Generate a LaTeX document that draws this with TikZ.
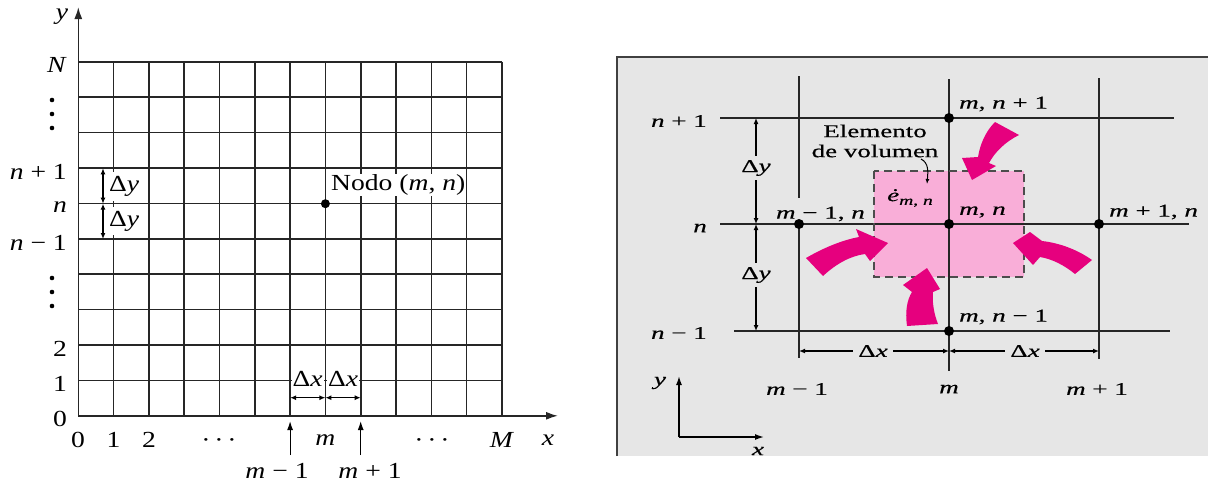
\documentclass[tikz,border=0pt]{standalone}
\usepackage{fontspec}
\setmainfont{Liberation Serif}
\newfontfamily\lfont[FakeStretch=1.2]{Liberation Serif}
\newfontfamily\rfont[FakeStretch=1.5,FakeBold=0.5]{Liberation Serif}
\usetikzlibrary{arrows.meta}
\definecolor{panelgray}{RGB}{230,230,230}
\definecolor{pinkfill}{RGB}{249,174,216}
\definecolor{magentaA}{RGB}{230,0,126}
\newcommand\itx[1]{\textit{#1}}
\begin{document}
\begin{tikzpicture}[x=1pt,y=-1pt,
  gridline/.style={line width=1.6pt, black!85},
  lab/.style={font=\lfont\fontsize{23}{26}\selectfont, inner sep=1pt},
  rlab/.style={font=\rfont\fontsize{18}{21}\selectfont, inner sep=1pt},
  axtip/.style={-{Latex[length=12pt,width=8pt]}},
  uptip/.style={line width=1.2pt,-{Latex[length=9pt,width=6pt]}},
  dimarrow/.style={{Latex[length=6pt,width=5pt]}-{Latex[length=6pt,width=5pt]}, line width=1.2pt},
  dot/.style={circle, fill=black, inner sep=0pt, minimum size=10pt},
  flux/.style={fill=magentaA, draw=none},
]
\useasboundingbox (0,0) rectangle (1208,483);
% ---------------- left panel ----------------
\foreach \k in {1,...,12} \draw[gridline] ({78.3+35.3*\k},61.7) -- ({78.3+35.3*\k},415.8);
\foreach \j in {1,...,10} \draw[gridline] (78.3,{415.8-35.41*\j}) -- (501.9,{415.8-35.41*\j});
\coordinate (O) at (78.3,415.8);
\coordinate (ytop) at (78.3,7);
\coordinate (xend) at (558,415.8);
\draw[gridline, axtip] (O) -- (ytop);
\draw[gridline, axtip] (O) -- (xend);
\node[lab] (ylab) at (62,17) {\itx{y}};
\node[lab] (xlab) at (548,440) {\itx{x}};
% left row labels
\node[lab, anchor=east] (rN) at (68,65) {\itx{N}};
\node[lab, anchor=east] (rnp) at (68,172) {\itx{n} + 1};
\node[lab, anchor=east] (rn) at (68,207) {\itx{n}};
\node[lab, anchor=east] (rnm) at (68,243) {\itx{n} − 1};
\node[lab, anchor=east] (r2) at (68,349) {2};
\node[lab, anchor=east] (r1) at (68,384) {1};
\node[lab, anchor=east] (r0) at (68,419) {0};
\foreach \yy in {100,114,128,278,292,306} \fill (52,\yy) circle (2.3);
% bottom labels
\node[lab] (c0) at (78,440) {0};
\node[lab] (c1) at (113.6,440) {1};
\node[lab] (c2) at (148.9,440) {2};
\node[lab] (cd1) at (219,443) {·\,·\,·};
\node[lab] (cm) at (325.4,440) {\itx{m}};
\node[lab] (cd2) at (432,443) {·\,·\,·};
\node[lab] (cM) at (502,440) {\itx{M}};
\coordinate (am1b) at (290.1,455);
\coordinate (am1t) at (290.1,421);
\coordinate (ap1b) at (360.7,455);
\coordinate (ap1t) at (360.7,421);
\draw[uptip] (am1b) -- (am1t);
\draw[uptip] (ap1b) -- (ap1t);
\node[lab] (cmm) at (277,471) {\itx{m} − 1};
\node[lab] (cmp) at (370,471) {\itx{m} + 1};
% delta x (left)
\node[lab, fill=white, inner ysep=5pt] (dxa) at (307.7,379) {Δ\itx{x}};
\node[lab, fill=white, inner ysep=5pt] (dxb) at (343,379) {Δ\itx{x}};
\coordinate (dx0) at (290.1,397.7);
\coordinate (dx1) at (325.4,397.7);
\coordinate (dx2) at (360.7,397.7);
\draw[dimarrow] (dx0) -- (dx1);
\draw[dimarrow] (dx1) -- (dx2);
% delta y (left)
\node[lab, fill=white, anchor=west, inner ysep=4pt] (dya) at (108,186.5) {Δ\itx{y}};
\node[lab, fill=white, anchor=west, inner ysep=4pt] (dyb) at (108,221) {Δ\itx{y}};
\coordinate (dy0) at (103,168.3);
\coordinate (dy1) at (103,203.7);
\coordinate (dy2) at (103,239);
\draw[dimarrow] (dy0) -- (dy1);
\draw[dimarrow] (dy1) -- (dy2);
% node
\node[dot, minimum size=9pt] (mn) at (325.4,203.7) {};
\node[lab, fill=white, anchor=west] (nodo) at (330,185) {Nodo (\itx{m}, \itx{n})};
% ---------------- right panel ----------------
\fill[panelgray] (617,57) rectangle (1208,456);
\draw[line width=2pt, black!75] (617,456) -- (617,57) -- (1208,57);
\fill[pinkfill] (874,171) rectangle (1024,277);
\draw[gridline] (720,118) -- (1174,118);
\draw[gridline] (720,224) -- (1189,224);
\draw[gridline] (734,331) -- (1170,331);
\draw[gridline] (799,76) -- (799,198);
\draw[gridline] (799,224) -- (799,358);
\draw[gridline] (949,79) -- (949,371);
\draw[gridline] (1099,78) -- (1099,359);
\node[dot] (Pw) at (799,224) {};
\node[dot] (Pn) at (949,118) {};
\node[dot] (Pc) at (949,224) {};
\node[dot] (Pe) at (1099,224) {};
\node[dot] (Ps) at (949,331) {};
\draw[line width=1.5pt, black!70, dash pattern=on 8pt off 5pt] (874,171) rectangle (1024,277);
% row labels
\node[rlab, anchor=east] (Rnp) at (708,121) {\itx{n} + 1};
\node[rlab, anchor=east] (Rn) at (708,228) {\itx{n}};
\node[rlab, anchor=east] (Rnm) at (708,333) {\itx{n} − 1};
% delta y (right)
\coordinate (Dy0) at (756,118);
\coordinate (Dy1) at (756,224);
\coordinate (Dy2) at (756,331);
\draw[dimarrow] (Dy0) -- (Dy1);
\draw[dimarrow] (Dy1) -- (Dy2);
\node[rlab, fill=panelgray, inner ysep=4pt] (Dya) at (756,168) {Δ\itx{y}};
\node[rlab, fill=panelgray, inner ysep=4pt] (Dyb) at (756,275) {Δ\itx{y}};
% delta x (right)
\coordinate (Dx0) at (799,351);
\coordinate (Dx1) at (949,351);
\coordinate (Dx2) at (1099,351);
\draw[dimarrow] (Dx0) -- (Dx1);
\draw[dimarrow] (Dx1) -- (Dx2);
\node[rlab, fill=panelgray, inner xsep=5pt] (Dxa) at (873,351) {Δ\itx{x}};
\node[rlab, fill=panelgray, inner xsep=5pt] (Dxb) at (1025,351) {Δ\itx{x}};
% column labels
\node[rlab] (Cm1) at (797,389) {\itx{m} − 1};
\node[rlab] (Cm) at (949,389) {\itx{m}};
\node[rlab] (Cp1) at (1097,389) {\itx{m} + 1};
% node labels
\node[rlab, anchor=west] (Ln) at (958,104) {\itx{m}, \itx{n} + 1};
\node[rlab, anchor=west] (Lc) at (958,212) {\itx{m}, \itx{n}};
\node[rlab, anchor=west] (Le) at (1108,212) {\itx{m} + 1, \itx{n}};
\node[rlab, anchor=west] (Ls) at (958,317) {\itx{m}, \itx{n} − 1};
\node[rlab, anchor=east] (Lw) at (866,214) {\itx{m} − 1, \itx{n}};
\node[rlab] (gen) at (910,198) {\itx{ė}\raisebox{-0.45ex}{\fontsize{13}{13}\selectfont\itx{m}, \itx{n}}};
\node[rlab, align=center, font=\rfont\fontsize{18}{20}\selectfont] (elem) at (875,141) {Elemento\\de volumen};
\coordinate (ea0) at (921,159);
\coordinate (ea1) at (927,184);
\draw[line width=1pt, -{Latex[length=5pt,width=4pt]}] (ea0) .. controls (929,163) and (928,172) .. (ea1);
% small axes
\coordinate (so) at (679,437);
\coordinate (sy) at (679,376);
\coordinate (sx) at (764,437);
\draw[line width=1.5pt, -{Latex[length=9pt,width=6pt]}] (so) -- (sy);
\draw[line width=1.5pt, -{Latex[length=9pt,width=6pt]}] (so) -- (sx);
\node[rlab] (sylab) at (660,383) {\itx{y}};
\node[rlab] (sxlab) at (758,451) {\itx{x}};
% flux arrows
\fill[flux] (806,258) .. controls (825,247) and (843,240) .. (859,237) -- (856,229) -- (888,243) -- (870,261) -- (865,254) .. controls (850,256) and (836,264) .. (823,276) -- cycle;
\fill[flux] (907,326) .. controls (905,311) and (907,300) .. (912,292) -- (903,285) -- (927,268) -- (940,289) -- (933,292) .. controls (932,302) and (934,314) .. (938,324) -- cycle;
\fill[flux] (995,122) .. controls (985,132) and (980,145) .. (978,157) -- (962,158) -- (972,180) -- (996,166) -- (989,163) .. controls (995,152) and (1005,142) .. (1019,135) -- cycle;
\fill[flux] (1092,260) .. controls (1078,250) and (1060,243) .. (1042,241) -- (1030,232) -- (1013,243) -- (1033,265) -- (1040,257) .. controls (1052,259) and (1064,265) .. (1075,274) -- cycle;
\end{tikzpicture}
\end{document}
